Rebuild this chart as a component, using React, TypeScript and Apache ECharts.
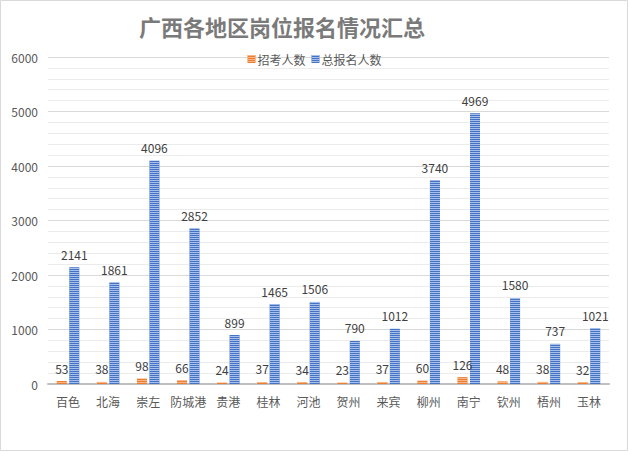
import React, { useEffect, useRef } from "react";
import * as echarts from "echarts";

const categories = ["百色", "北海", "崇左", "防城港", "贵港", "桂林", "河池", "贺州", "来宾", "柳州", "南宁", "钦州", "梧州", "玉林"];
const recruitCounts = [53, 38, 98, 66, 24, 37, 34, 23, 37, 60, 126, 48, 38, 32];
const applicantCounts = [2141, 1861, 4096, 2852, 899, 1465, 1506, 790, 1012, 3740, 4969, 1580, 737, 1021];
const seriesNames = ["招考人数", "总报名人数"];
const titleText = "广西各地区岗位报名情况汇总";

const stripe = (c: string) => ({
  symbol: "rect",
  symbolSize: 1,
  color: c,
  dashArrayX: [1, 0],
  dashArrayY: [1, 1],
  rotation: 0,
});

export default function App() {
  const ref = useRef<HTMLDivElement>(null);
  useEffect(() => {
    const chart = echarts.init(ref.current!, null, { renderer: "svg" });
    const font = "'Noto Sans CJK SC', 'Noto Sans', sans-serif";
    chart.setOption({
      animation: false,
      backgroundColor: "#ffffff",
      textStyle: { fontFamily: font },
      title: {
        text: titleText,
        left: 277,
        textAlign: "center",
        top: 10,
        textStyle: { fontSize: 22, fontWeight: "bold", color: "#7a7a7a", fontFamily: font },
      },
      legend: {
        top: 48,
        left: "center",
        icon: "rect",
        itemWidth: 8,
        itemHeight: 8,
        itemGap: 6,
        textStyle: { fontSize: 12, color: "#595959", padding: [0, 0, 0, -3] },
        data: seriesNames,
      },
      grid: { left: 48, right: 20, top: 57, bottom: 68 },
      xAxis: {
        type: "category",
        data: categories,
        axisLine: { lineStyle: { color: "#bfbfbf", width: 2 } },
        axisTick: { show: false },
        axisLabel: { fontSize: 12, color: "#595959", margin: 11, interval: 0 },
      },
      yAxis: {
        type: "value",
        min: 0,
        max: 6000,
        interval: 1000,
        axisLine: { show: false },
        axisTick: { show: false },
        axisLabel: { fontSize: 12, color: "#595959", margin: 10, formatter: (v: number) => String(v) },
        splitLine: { lineStyle: { color: "#d9d9d9", width: 1 } },
        minorTick: { show: false, splitNumber: 5 },
        minorSplitLine: { show: true, lineStyle: { color: "#ececec", width: 1 } },
      },
      series: [
        {
          name: seriesNames[0],
          type: "bar",
          data: recruitCounts,
          barWidth: 10,
          barGap: "25%",
          itemStyle: { color: "#ed7d31", decal: stripe("rgba(255,200,160,0.75)") },
          label: { show: true, position: "top", distance: 7, fontSize: 12, color: "#404040" },
        },
        {
          name: seriesNames[1],
          type: "bar",
          data: applicantCounts,
          barWidth: 10,
          itemStyle: { color: "#4472c4", decal: stripe("rgba(190,210,245,0.8)") },
          label: { show: true, position: "top", distance: 7, fontSize: 12, color: "#404040" },
        },
      ],
      graphic: [
        {
          type: "rect",
          shape: { x: 0.5, y: 0.5, width: 627, height: 450 },
          style: { fill: "none", stroke: "#d9d9d9", lineWidth: 1 },
          silent: true,
        },
      ],
    });
    return () => chart.dispose();
  }, []);
  return <div ref={ref} style={{ width: 629, height: 452, position: "absolute", left: 0, top: 0 }} />;
}
